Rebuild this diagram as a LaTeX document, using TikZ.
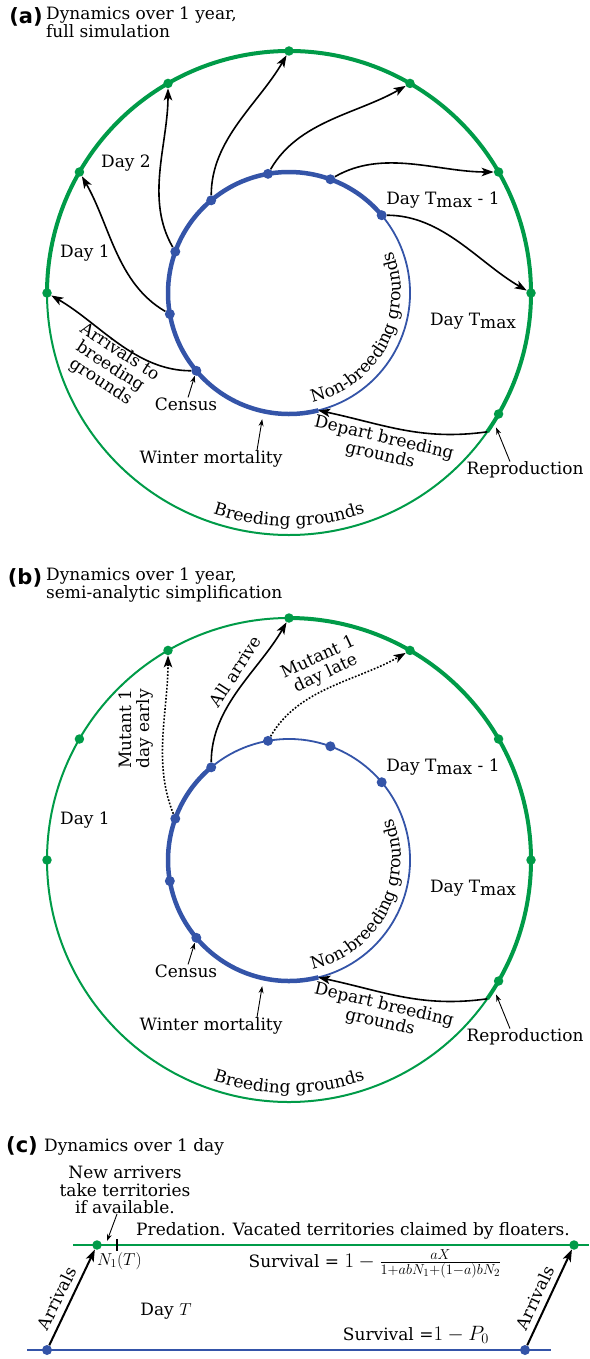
\documentclass[tikz,border=0pt]{standalone}
\usepackage{amsmath}
\usepackage{fontspec}
\setmainfont{DejaVu Serif}
\newfontfamily\panelfont{DejaVu Sans}
\usetikzlibrary{arrows.meta,decorations.text}

\definecolor{brdgreen}{RGB}{0,155,72}
\definecolor{nbblue}{RGB}{52,84,168}

\newcommand{\lblfont}{\fontsize{17}{17.5}\selectfont}
\newcommand{\mathbig}{\fontsize{21}{21}\selectfont}
\newcommand{\tmax}{T\raisebox{-0.35ex}{max}}

\begin{document}
\begin{tikzpicture}[x=1pt, y=1pt,
		every node/.style={font=\lblfont, inner sep=0pt},
		gthick/.style={brdgreen, line width=4pt},
		gthin/.style={brdgreen, line width=2pt},
		bthick/.style={nbblue, line width=4.5pt},
		bthin/.style={nbblue, line width=1.8pt},
		gdot/.style={circle, fill=brdgreen, minimum size=9.5pt, inner sep=0pt},
		bdot/.style={circle, fill=nbblue, minimum size=10pt, inner sep=0pt},
		mig/.style={-{Stealth[length=12pt, width=8.5pt, inset=3pt]}, line width=1.6pt},
		mutant/.style={mig, dash pattern=on 1.7pt off 1.7pt},
		ptr/.style={-{Stealth[length=7pt, width=5pt]}, line width=0.9pt},
		panel/.style={font=\fontsize{21}{24}\selectfont\panelfont\bfseries},
		title/.style={anchor=north west, align=left}
	]
		\useasboundingbox (0,0) rectangle (589,-1359);

		\coordinate (ca) at (289,-293);
		\coordinate (cb) at (289,-860);

		% (a) full simulation
		\node[panel] (atag) at (26,-17) {(a)};
		\node[title] (atitle) at (46,-7) {Dynamics over 1 year,\\ full simulation};

		\draw[gthin] ([shift={(180:242pt)}]ca) arc[start angle=180, end angle=325, radius=242pt];
		\draw[gthick] ([shift={(-35:242pt)}]ca) arc[start angle=-35, end angle=180, radius=242pt];
		\draw[bthin] ([shift={(-76:121pt)}]ca) arc[start angle=-76, end angle=40, radius=121pt];
		\draw[bthick] ([shift={(40:121pt)}]ca) arc[start angle=40, end angle=284, radius=121pt];

		\foreach \a in {0,30,...,180,330}
			\node[gdot] (ga\a) at ([shift={(\a:242pt)}]ca) {};
		\foreach \a in {40,70,...,220}
			\node[bdot] (ba\a) at ([shift={(\a:121pt)}]ca) {};

		\foreach \b/\g/\i in {220/180/330, 190/150/300, 160/120/270, 130/90/240, 100/60/210, 70/30/180, 40/0/150}
			\draw[mig] (ba\b) to[out=\g, in=\i, looseness=0.9] (ga\g);

		\coordinate (adep) at ([shift={(325:242pt)}]ca);
		\coordinate (aret) at ([shift={(284:121pt)}]ca);
		\draw[mig] (adep) to[out=188, in=-12] (aret);

		\node (aday1) at (85,-253) {Day 1};
		\node (aday2) at (126,-163) {Day 2};
		\node (adaym) at (443,-200) {Day \tmax{} - 1};
		\node (adayt) at (473,-321) {Day \tmax};
		\node[rotate=-33, align=center] (aarr) at (110,-367) {Arrivals to\\ breeding\\ grounds};

		\node (acens) at (186,-404) {Census};
		\draw[ptr] (acens) -- (ba220);
		\node (awint) at (211,-459) {Winter mortality};
		\coordinate (awm) at ([shift={(-102:129pt)}]ca);
		\draw[ptr] ([xshift=46pt]awint.north) -- (awm);
		\node[rotate=-13, align=center] (adept) at (382,-447) {Depart breeding\\ grounds};
		\node (arepr) at (525,-470) {Reproduction};
		\coordinate (arp) at ([shift={(327:247pt)}]ca);
		\draw[ptr] ([xshift=-15pt]arepr.north) -- (arp);

		\path[decorate, decoration={text along path, text={|\lblfont|Breeding grounds}, text align=center}]
			([shift={(-125:233pt)}]ca) arc[start angle=-125, end angle=-55, radius=233pt];
		\path[decorate, decoration={text along path, text={|\lblfont|Non-breeding grounds}, text align=center}]
			([shift={(-88:112pt)}]ca) arc[start angle=-88, end angle=32, radius=112pt];

		% (b) semi-analytic
		\node[panel] (btag) at (25,-578) {(b)};
		\node[title] (btitle) at (46,-568) {Dynamics over 1 year,\\ semi-analytic simplification};

		\draw[gthin] ([shift={(90:242pt)}]cb) arc[start angle=90, end angle=325, radius=242pt];
		\draw[gthick] ([shift={(-35:242pt)}]cb) arc[start angle=-35, end angle=90, radius=242pt];
		\draw[bthin] ([shift={(-76:121pt)}]cb) arc[start angle=-76, end angle=130, radius=121pt];
		\draw[bthick] ([shift={(130:121pt)}]cb) arc[start angle=130, end angle=284, radius=121pt];

		\foreach \a in {0,30,...,180,330}
			\node[gdot] (gb\a) at ([shift={(\a:242pt)}]cb) {};
		\foreach \a in {40,70,...,220}
			\node[bdot] (bb\a) at ([shift={(\a:121pt)}]cb) {};

		\draw[mutant] (bb160) to[out=112, in=270, looseness=0.9] (gb120);
		\draw[mig] (bb130) to[out=90, in=240, looseness=0.9] (gb90);
		\draw[mutant] (bb100) to[out=60, in=210, looseness=0.9] (gb60);

		\coordinate (bdep) at ([shift={(325:242pt)}]cb);
		\coordinate (bret) at ([shift={(284:121pt)}]cb);
		\draw[mig] (bdep) to[out=188, in=-12] (bret);

		\node[rotate=90, align=center] (bearly) at (136,-729) {Mutant 1\\ day early};
		\node[rotate=57] (ball) at (235,-671) {All arrive};
		\node[rotate=25, align=center] (blate) at (322,-666) {Mutant 1\\ day late};

		\node (bday1) at (85,-820) {Day 1};
		\node (bdaym) at (443,-767) {Day \tmax{} - 1};
		\node (bdayt) at (473,-888) {Day \tmax};

		\node (bcens) at (186,-971) {Census};
		\draw[ptr] (bcens) -- (bb220);
		\node (bwint) at (211,-1026) {Winter mortality};
		\coordinate (bwm) at ([shift={(-102:129pt)}]cb);
		\draw[ptr] ([xshift=46pt]bwint.north) -- (bwm);
		\node[rotate=-13, align=center] (bdept) at (382,-1014) {Depart breeding\\ grounds};
		\node (brepr) at (525,-1037) {Reproduction};
		\coordinate (brp) at ([shift={(327:247pt)}]cb);
		\draw[ptr] ([xshift=-15pt]brepr.north) -- (brp);

		\path[decorate, decoration={text along path, text={|\lblfont|Breeding grounds}, text align=center}]
			([shift={(-125:233pt)}]cb) arc[start angle=-125, end angle=-55, radius=233pt];
		\path[decorate, decoration={text along path, text={|\lblfont|Non-breeding grounds}, text align=center}]
			([shift={(-88:112pt)}]cb) arc[start angle=-88, end angle=32, radius=112pt];

		% (c) one day
		\node[panel] (ctag) at (22,-1146) {(c)};
		\node[anchor=west] (ctitle) at (44,-1147) {Dynamics over 1 day};

		\coordinate (cgl) at (73,-1245);
		\coordinate (cgr) at (589,-1245);
		\coordinate (cbl) at (27,-1350);
		\coordinate (cbr) at (551,-1350);
		\draw[gthin] (cgl) -- (cgr);
		\draw[bthin, line width=2pt] (cbl) -- (cbr);
		\draw[line width=1.5pt] (117,-1239) -- (117,-1251);

		\node[gdot] (cg1) at (97,-1245) {};
		\node[gdot] (cg2) at (574,-1245) {};
		\node[bdot] (cb1) at (47,-1350) {};
		\node[bdot] (cb2) at (525,-1350) {};
		\draw[mig, line width=2pt] (cb1) -- (cg1);
		\draw[mig, line width=2pt] (cb2) -- (cg2);

		\node[align=center] (cnew) at (125,-1190) {New arrivers\\ take territories\\ if available.};
		\coordinate (cnt) at (107,-1241);
		\draw[ptr] ([xshift=-8pt]cnew.south) -- (cnt);
		\node[anchor=north west] (cn1) at (97,-1252) {$N_1(T)$};

		\node (cpred) at (353,-1231) {Predation. Vacated territories claimed by floaters.};
		\node (csurv) at (375,-1264) {Survival = {\mathbig$1 - \frac{aX}{1+abN_1+(1-a)bN_2}$}};
		\node (cday) at (166,-1311) {Day $T$};
		\node (cpzero) at (416,-1335) {Survival ={\mathbig$1 - P_0$}};
		\node[rotate=64] (carr1) at (57,-1298) {Arrivals};
		\node[rotate=65] (carr2) at (535,-1298) {Arrivals};
	\end{tikzpicture}
\end{document}
